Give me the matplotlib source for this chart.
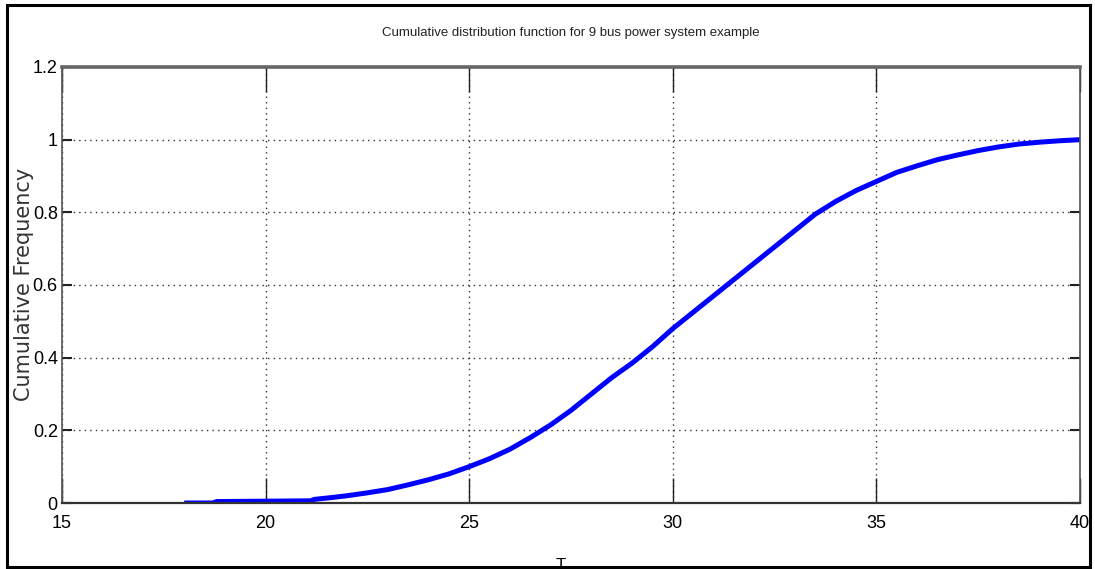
import matplotlib
matplotlib.use("Agg")
import matplotlib.pyplot as plt
from matplotlib.patches import Rectangle

# ECDF
t_vals = [18.0, 18.7, 18.8, 20.0, 21.1, 21.2, 21.7, 22.0, 22.5, 23.0, 23.5, 24.0,
          24.5, 25.0, 25.5, 26.0, 26.5, 27.0, 27.5, 28.0, 28.5, 29.0, 29.5,
          30.0, 30.5, 31.0, 31.5, 32.0, 32.5, 33.0, 33.5, 34.0, 34.5, 35.0,
          35.5, 36.0, 36.5, 37.0, 37.5, 38.0, 38.5, 39.0, 39.5, 40.0]
cdf_vals = [0.0, 0.0, 0.004, 0.005, 0.006, 0.010, 0.016, 0.020, 0.028, 0.037,
            0.050, 0.064, 0.080, 0.100, 0.122, 0.148, 0.180, 0.215, 0.255,
            0.300, 0.345, 0.385, 0.430, 0.480, 0.525, 0.570, 0.615, 0.660,
            0.705, 0.750, 0.795, 0.830, 0.860, 0.885, 0.910, 0.928, 0.945,
            0.958, 0.970, 0.980, 0.988, 0.993, 0.997, 1.0]

x_ticks = [15, 20, 25, 30, 35, 40]
y_ticks = [0, 0.2, 0.4, 0.6, 0.8, 1, 1.2]
y_tick_labels = ["0", "0.2", "0.4", "0.6", "0.8", "1", "1.2"]

narrow = ["Liberation Sans", "DejaVu Sans"]

fig = plt.figure(figsize=(10.95, 5.69), dpi=100)
ax = fig.add_axes([62 / 1095, 1 - 503 / 569, (1080 - 62) / 1095, (503 - 67) / 569])

ax.plot(t_vals, cdf_vals, color="#0000ff", linewidth=3.6, solid_capstyle="butt")

ax.set_xlim(15, 40)
ax.set_ylim(0, 1.2)
ax.set_xticks(x_ticks)
ax.set_yticks(y_ticks)
ax.set_xticklabels([str(v) for v in x_ticks], family=narrow, fontsize=13)
ax.set_yticklabels(y_tick_labels, family=narrow, fontsize=13)
ax.tick_params(axis="x", direction="in", length=18, width=1, top=True, pad=9, color="#222")
ax.tick_params(axis="y", direction="in", length=7, width=1.5, right=True, pad=3, color="#222")
ax.grid(True, linestyle=(0, (1, 3)), color="#333", linewidth=1.0)

for name in ["left", "right"]:
    ax.spines[name].set_color("#555")
    ax.spines[name].set_linewidth(1.2)
ax.spines["bottom"].set_color("#333")
ax.spines["bottom"].set_linewidth(1.6)
ax.spines["top"].set_color("#666")
ax.spines["top"].set_linewidth(2.6)

ax.set_title("Cumulative distribution function for 9 bus power system example",
             family=narrow, fontsize=9.5, pad=22, color="#222")
fig.text(0.022, 0.50, "Cumulative Frequency", rotation=90, fontsize=15,
         color="#333", ha="center", va="center")
# x label is clipped by the figure edge in the reference
fig.text(0.512, 0.020, "T", family=narrow, fontsize=12, ha="center", va="top")

fig.patches.append(Rectangle((7 / 1095, 2 / 569), 1083 / 1095, 562 / 569,
                             transform=fig.transFigure, fill=False,
                             edgecolor="black", linewidth=2.2))

fig.savefig("out.png", dpi=100)
